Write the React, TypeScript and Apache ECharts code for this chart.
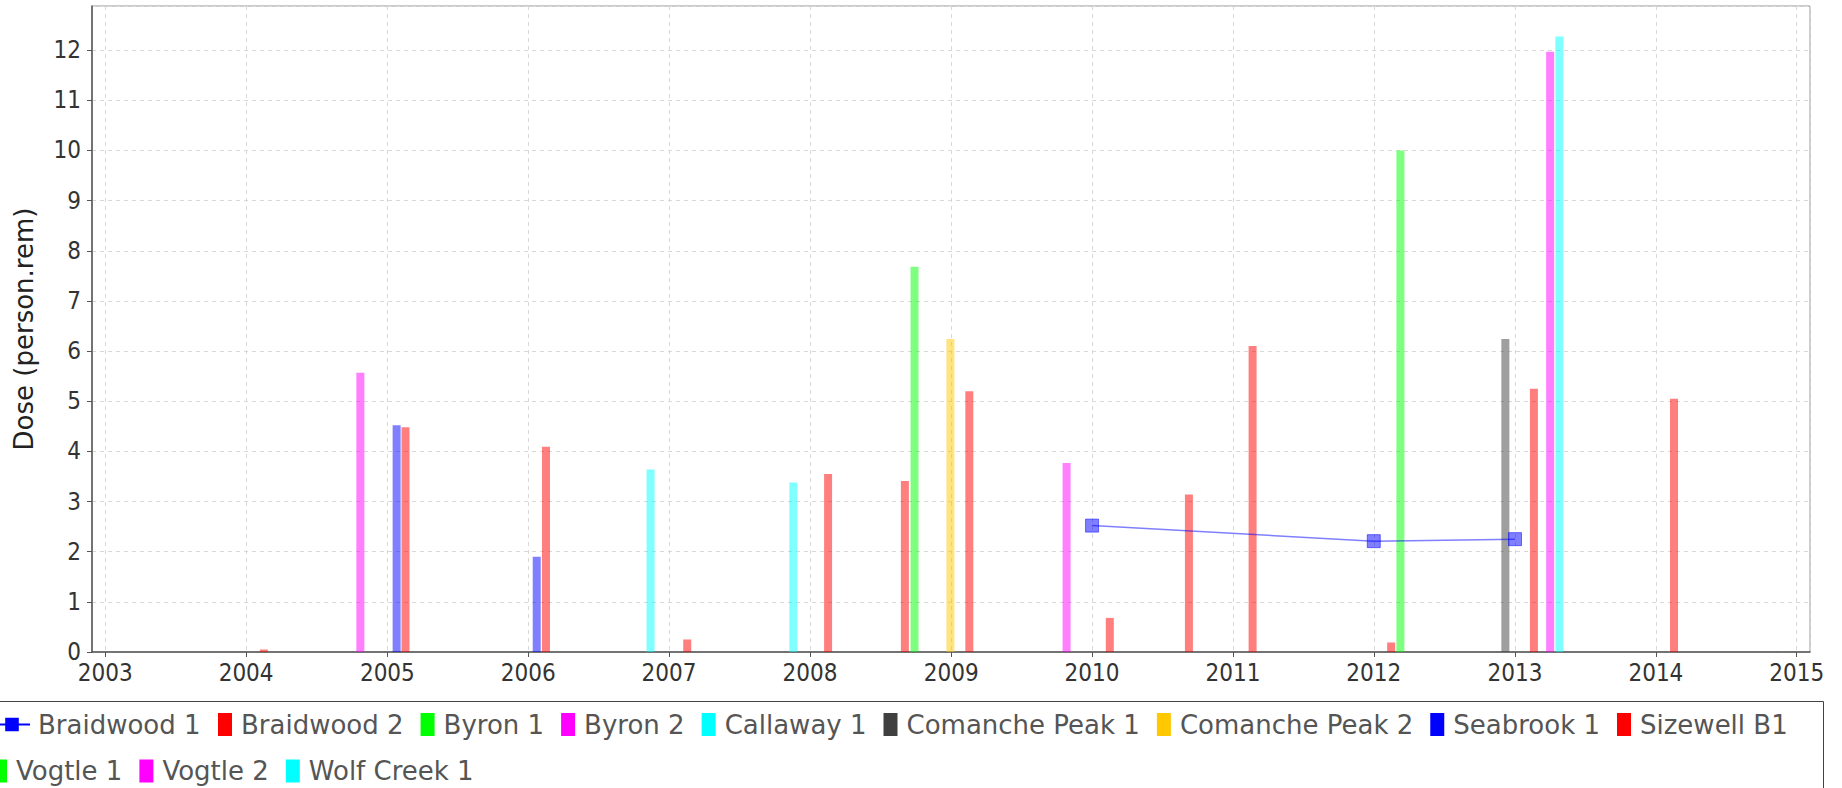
import React, { useEffect, useRef } from 'react';
import * as echarts from 'echarts';

// ---- data ----
const seriesNames = [
  'Braidwood 1', 'Braidwood 2', 'Byron 1', 'Byron 2', 'Callaway 1', 'Comanche Peak 1',
  'Comanche Peak 2', 'Seabrook 1', 'Sizewell B1', 'Vogtle 1', 'Vogtle 2', 'Wolf Creek 1',
];
const seriesColors = [
  '#0000FF', '#FF0000', '#00FF00', '#FF00FF', '#00FFFF', '#404040',
  '#FFC800', '#0000FF', '#FF0000', '#00FF00', '#FF00FF', '#00FFFF',
];

const braidwood1: [string, number][] = [['2010-01-01', 2.52], ['2012-01-01', 2.21], ['2013-01-01', 2.25]];
const braidwood2: [string, number][] = [['2008-09-03', 3.41], ['2010-09-09', 3.14], ['2012-02-15', 0.19], ['2013-02-19', 5.25]];
const byron1: [string, number][] = [['2008-09-28', 7.68]];
const byron2: [string, number][] = [['2004-10-23', 5.57], ['2009-10-27', 3.77]];
const callaway1: [string, number][] = [['2006-11-14', 3.64], ['2007-11-19', 3.38]];
const comanchePeak1: [string, number][] = [['2012-12-07', 6.24]];
const comanchePeak2: [string, number][] = [['2008-12-30', 6.24]];
const seabrook1: [string, number][] = [['2005-01-25', 4.52], ['2006-01-23', 1.9]];
const sizewellB1: [string, number][] = [
  ['2004-02-16', 0.05], ['2005-02-17', 4.48], ['2006-02-16', 4.09], ['2007-02-17', 0.25],
  ['2008-02-17', 3.55], ['2009-02-17', 5.2], ['2010-02-16', 0.68], ['2011-02-21', 6.1], ['2014-02-17', 5.05],
];
const vogtle1: [string, number][] = [['2012-03-10', 10.0]];
const vogtle2: [string, number][] = [['2013-04-02', 11.97]];
const wolfCreek1: [string, number][] = [['2013-04-26', 12.27]];

const barData = [braidwood2, byron1, byron2, callaway1, comanchePeak1, comanchePeak2, seabrook1, sizewellB1, vogtle1, vogtle2, wolfCreek1];

const xMin = '2002-12-08';
const xMax = '2015-01-25';
const yMax = 12.88;
const yAxisTitle = 'Dose (person.rem)';

const legendRow1a = seriesNames.slice(0, 1);
const legendRow1b = seriesNames.slice(1, 9);
const legendRow2 = seriesNames.slice(9);

export default function App() {
  const ref = useRef<HTMLDivElement>(null);
  useEffect(() => {
    if (!ref.current) return;
    const chart = echarts.init(ref.current, undefined, { renderer: 'svg' });
    const tickFont = "'DejaVu Sans Condensed', 'Liberation Sans', sans-serif";
    const legendText = {
      fontFamily: 'DejaVu Sans', fontSize: 26, color: '#555', lineHeight: 26, padding: [0, 0, 0, 4],
    };
    const legendItem = (name: string) => {
      const i = seriesNames.indexOf(name);
      return {
        name,
        icon: i === 0 ? undefined : 'rect',
        itemStyle: { color: seriesColors[i], opacity: 1, borderWidth: 0 },
        lineStyle: { color: seriesColors[i], width: 2, opacity: 1 },
      };
    };
    const bars = barData.map((d, k) => ({
      name: seriesNames[k + 1],
      type: 'bar',
      data: d,
      barWidth: 8,
      barGap: '-100%',
      itemStyle: { color: seriesColors[k + 1], opacity: 0.5 },
      z: 2,
    }));
    const option: any = {
      animation: false,
      backgroundColor: '#fff',
      grid: {
        left: 92, right: 32, top: 6, bottom: 136,
        show: true, borderColor: '#999', borderWidth: 1, backgroundColor: '#fff',
      },
      xAxis: {
        type: 'time',
        min: xMin,
        max: xMax,
        splitNumber: 12,
        axisLine: { show: true, lineStyle: { color: '#555', width: 1.5 } },
        axisTick: { show: true, length: 5, lineStyle: { color: '#555' } },
        axisLabel: {
          show: true, margin: 9, fontFamily: tickFont, fontSize: 24, color: '#333',
          showMinLabel: false, showMaxLabel: false,
          formatter: (v: number) => String(new Date(v).getFullYear()),
        },
        splitLine: { show: true, lineStyle: { color: '#d8d8d8', type: [4, 4], width: 1 } },
      },
      yAxis: {
        type: 'value',
        min: 0,
        max: yMax,
        interval: 1,
        name: yAxisTitle,
        nameLocation: 'middle',
        nameGap: 55,
        nameTextStyle: { fontFamily: 'DejaVu Sans', fontSize: 26, color: '#222', lineHeight: 26 },
        axisLine: { show: true, lineStyle: { color: '#555', width: 1.5 } },
        axisTick: { show: true, length: 5, lineStyle: { color: '#555' } },
        axisLabel: {
          margin: 11, fontFamily: tickFont, fontSize: 24, color: '#333', showMaxLabel: false,
        },
        splitLine: { show: true, lineStyle: { color: '#d8d8d8', type: [4, 4], width: 1 } },
      },
      legend: [
        {
          data: legendRow1a.map(legendItem), left: -7, top: 711.5, padding: 0,
          itemWidth: 36, itemHeight: 17, itemGap: 17, selectedMode: false,
          textStyle: { ...legendText, padding: [0, 0, 0, 3] },
        },
        {
          data: legendRow1b.map(legendItem), left: 218, top: 711.5, padding: 0,
          itemWidth: 14, itemHeight: 23, itemGap: 17, selectedMode: false,
          textStyle: legendText,
        },
        {
          data: legendRow2.map(legendItem), left: -7, top: 758, padding: 0,
          itemWidth: 14, itemHeight: 23, itemGap: 17, selectedMode: false,
          textStyle: legendText,
        },
      ],
      graphic: [
        {
          type: 'rect',
          shape: { x: -10, y: 701.5, width: 1833.5, height: 200 },
          style: { fill: 'none', stroke: '#444', lineWidth: 1 },
          silent: true,
        },
      ],
      series: [
        {
          name: seriesNames[0],
          type: 'line',
          data: braidwood1,
          symbol: 'rect',
          symbolSize: 13,
          lineStyle: { color: 'rgba(0,0,255,0.5)', width: 1.5 },
          itemStyle: { color: 'rgba(0,0,255,0.5)', borderColor: 'rgba(0,0,255,0.5)', borderWidth: 1 },
          z: 5,
        },
        ...bars,
      ],
    };
    chart.setOption(option);
    return () => chart.dispose();
  }, []);
  return (
    <div
      ref={ref}
      style={{ position: 'fixed', left: 0, top: 0, width: 1842, height: 788, background: '#fff' }}
    />
  );
}
